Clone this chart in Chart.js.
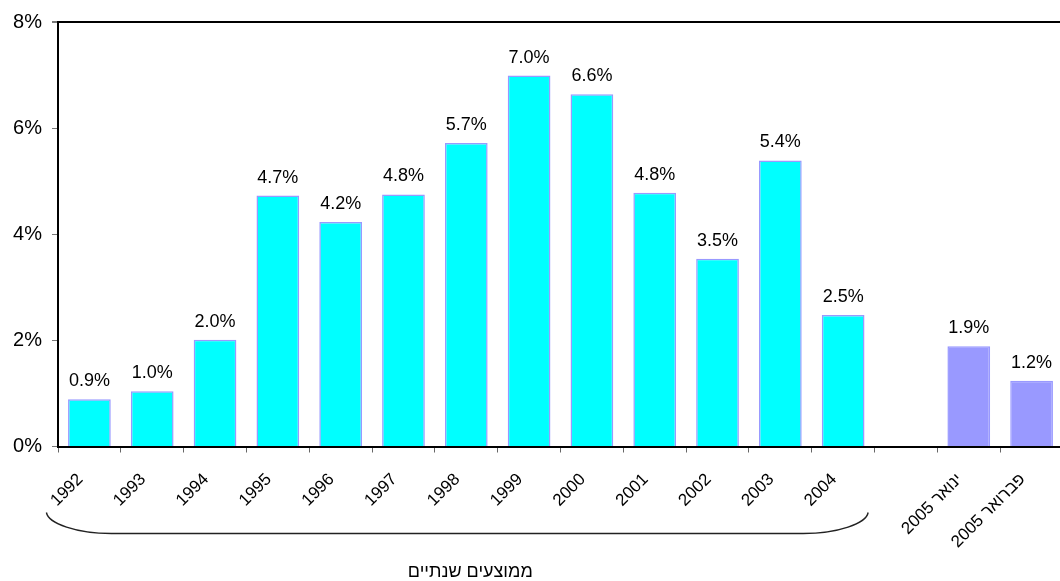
<!DOCTYPE html>
<html lang="he">
<head>
    <meta charset="UTF-8">
    <title>ממוצעים שנתיים</title>
    <script src="https://cdn.jsdelivr.net/npm/chart.js"></script>
    <style>
        body {
            margin: 0;
            padding: 0;
            background: #fff;
            overflow: hidden;
        }
        #wrap {
            width: 1068px;
            height: 581px;
        }
    </style>
</head>
<body>
    <div id="wrap">
        <canvas id="chart" width="1068" height="581" dir="rtl"></canvas>
    </div>

    <script>
        // annual averages 1992-2004, then the two monthly values of 2005
        const categories = ['1992', '1993', '1994', '1995', '1996', '1997', '1998', '1999',
            '2000', '2001', '2002', '2003', '2004', '', 'ינואר 2005', 'פברואר 2005'];
        const values = [0.89, 1.04, 2.01, 4.73, 4.23, 4.75, 5.72, 6.99,
            6.64, 4.78, 3.54, 5.39, 2.48, null, 1.89, 1.24];
        const yTicks = [0, 2, 4, 6, 8];
        const bracketTitle = 'ממוצעים שנתיים';
        const yearCount = 13;

        const FONT = "'Liberation Sans', Arial, sans-serif";

        const barColors = values.map((v, i) => i < yearCount ? '#00FFFF' : '#9999FF');

        // value text above each bar
        const valueLabels = {
            id: 'valueLabels',
            afterDatasetsDraw(chart) {
                const ctx = chart.ctx;
                const meta = chart.getDatasetMeta(0);
                ctx.save();
                ctx.font = '18px ' + FONT;
                ctx.fillStyle = '#000';
                ctx.textAlign = 'center';
                ctx.textBaseline = 'alphabetic';
                meta.data.forEach((bar, i) => {
                    const v = values[i];
                    if (v === null) return;
                    ctx.fillText(v.toFixed(1) + '%', bar.x, bar.y - 13);
                });
                ctx.restore();
            }
        };

        // curly bracket under the yearly labels and its caption
        const yearBracket = {
            id: 'yearBracket',
            afterDraw(chart) {
                const ctx = chart.ctx;
                const xs = chart.scales.x;
                const area = chart.chartArea;
                const x0 = xs.getPixelForValue(0) - 43;
                const x1 = xs.getPixelForValue(yearCount - 1) + 25;
                const yTop = area.bottom + 66;
                const yLow = area.bottom + 87;

                ctx.save();
                ctx.strokeStyle = '#222';
                ctx.lineWidth = 1.4;
                ctx.beginPath();
                ctx.moveTo(x0, yTop);
                ctx.bezierCurveTo(x0 + 2, yLow - 10, x0 + 30, yLow, x0 + 65, yLow);
                ctx.lineTo(x1 - 65, yLow);
                ctx.bezierCurveTo(x1 - 30, yLow, x1 - 2, yLow - 10, x1, yTop);
                ctx.stroke();

                ctx.font = '18px ' + FONT;
                ctx.fillStyle = '#000';
                ctx.textAlign = 'center';
                ctx.textBaseline = 'middle';
                const mid = (xs.getPixelForValue(0) + xs.getPixelForValue(yearCount - 1)) / 2;
                ctx.fillText(bracketTitle, mid + 4, area.bottom + 126);
                ctx.restore();
            }
        };

        new Chart(document.getElementById('chart'), {
            type: 'bar',
            data: {
                labels: categories,
                datasets: [{
                    data: values,
                    backgroundColor: barColors,
                    borderColor: '#9999FF',
                    borderWidth: 1.5,
                    barPercentage: 0.68,
                    categoryPercentage: 1
                }]
            },
            options: {
                responsive: false,
                animation: false,
                layout: {
                    padding: { top: 20, right: 5, bottom: 0, left: 0 }
                },
                plugins: {
                    legend: { display: false },
                    tooltip: { enabled: false }
                },
                scales: {
                    x: {
                        offset: true,
                        grid: {
                            offset: true,
                            drawOnChartArea: false,
                            tickLength: 6,
                            tickColor: '#666'
                        },
                        border: { color: '#000', width: 2 },
                        ticks: {
                            color: '#000',
                            font: { family: FONT, size: 17 },
                            minRotation: 45,
                            maxRotation: 45,
                            autoSkip: false,
                            padding: 17,
                            labelOffset: -9
                        },
                        afterFit(scale) {
                            scale.height = 134.5;
                        }
                    },
                    y: {
                        min: 0,
                        max: 8,
                        afterBuildTicks(scale) {
                            scale.ticks = yTicks.map(v => ({ value: v }));
                        },
                        grid: {
                            color: ctx => ctx.tick && ctx.tick.value === 8 ? '#000' : 'transparent',
                            lineWidth: ctx => ctx.tick && ctx.tick.value === 8 ? 2 : 1,
                            tickLength: 6,
                            tickColor: '#777'
                        },
                        border: { color: '#000', width: 2 },
                        ticks: {
                            color: '#000',
                            font: { family: FONT, size: 20 },
                            padding: 10,
                            callback: v => v + '%'
                        },
                        afterFit(scale) {
                            scale.width = 58;
                        }
                    }
                }
            },
            plugins: [valueLabels, yearBracket]
        });
    </script>
</body>
</html>
